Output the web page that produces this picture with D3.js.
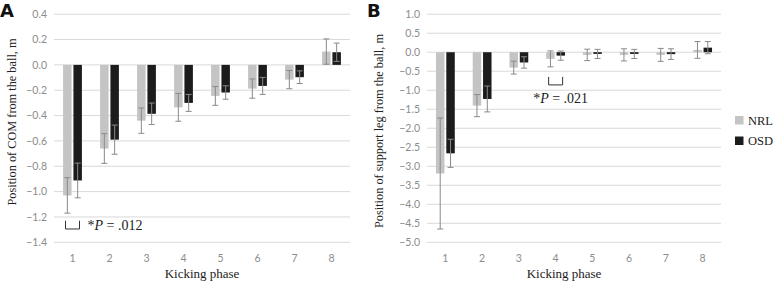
<!DOCTYPE html>
<html>
<head>
<meta charset="utf-8">
<script src="https://cdn.jsdelivr.net/npm/d3@7"></script>
<style>
  body { margin: 0; background: #fff; }
  svg { display: block; }
</style>
</head>
<body>
<svg id="chart"></svg>
<script>
/////////////////////////////////
// DATA
//////////////////////////////////

var phases = ["1", "2", "3", "4", "5", "6", "7", "8"];
var groups = ["NRL", "OSD"];

// Panel A - position of COM from the ball (m), mean and SD
var comNRL = [-1.03, -0.66, -0.44, -0.335, -0.245, -0.187, -0.116, 0.105];
var comNRLsd = [0.14, 0.117, 0.10, 0.11, 0.074, 0.076, 0.072, 0.10];
var comOSD = [-0.912, -0.59, -0.386, -0.30, -0.218, -0.166, -0.097, 0.10];
var comOSDsd = [0.137, 0.115, 0.085, 0.067, 0.053, 0.067, 0.05, 0.072];
var comTicks = [0.4, 0.2, 0.0, -0.2, -0.4, -0.6, -0.8, -1.0, -1.2, -1.4];

// Panel B - position of support leg from the ball (m)
var legNRL = [-3.19, -1.405, -0.405, -0.175, -0.07, -0.07, -0.07, 0.06];
var legNRLsd = [1.46, 0.29, 0.17, 0.21, 0.15, 0.16, 0.17, 0.22];
var legOSD = [-2.66, -1.23, -0.27, -0.09, -0.045, -0.045, -0.05, 0.12];
var legOSDsd = [0.37, 0.34, 0.15, 0.12, 0.12, 0.12, 0.14, 0.16];
var legTicks = [1.0, 0.5, 0.0, -0.5, -1.0, -1.5, -2.0, -2.5, -3.0, -3.5, -4.0, -4.5, -5.0];

var colors = { NRL: "#c4c4c4", OSD: "#1c1c1c" };

/////////////////////////////////
// SVG
//////////////////////////////////

var width = 774, height = 282;
var svg = d3.select("#chart").attr("width", width).attr("height", height);

var serif = "'Liberation Serif', 'DejaVu Serif', serif";
var sans = "Lato, 'Open Sans', sans-serif";

/////////////////////////////////
// DRAW ONE PANEL
//////////////////////////////////

function drawPanel(opt) {
    var x = d3.scaleBand().domain(phases).range(opt.xRange);
    var y = d3.scaleLinear().domain(opt.yDomain).range([242.3, 14.2]);
    var xSub = d3.scaleBand().domain(groups).range([-9.4, 9.4]).paddingInner(0.18);

    var g = svg.append("g");

    // gridlines
    g.selectAll(".grid").data(opt.ticks).enter().append("line")
        .attr("x1", opt.xRange[0]).attr("x2", opt.xRange[1])
        .attr("y1", function(d) { return y(d); })
        .attr("y2", function(d) { return y(d); })
        .attr("stroke", "#d9d9d9").attr("stroke-width", 1);

    // y tick labels
    g.selectAll(".ytick").data(opt.ticks).enter().append("text")
        .attr("x", opt.xRange[0] - 7)
        .attr("y", function(d) { return y(d); })
        .attr("dy", "0.35em")
        .attr("text-anchor", "end")
        .attr("font-family", sans).attr("font-size", 10.5)
        .attr("fill", "#8c8c8c")
        .text(function(d) { return d3.format(".1f")(d); });

    // x tick labels
    g.selectAll(".xtick").data(phases).enter().append("text")
        .attr("x", function(d) { return x(d) + x.bandwidth() / 2; })
        .attr("y", 262)
        .attr("text-anchor", "middle")
        .attr("font-family", sans).attr("font-size", 10.5)
        .attr("fill", "#8c8c8c")
        .text(function(d) { return d; });

    // rows: one per bar
    var rows = [];
    phases.forEach(function(p, i) {
        rows.push({ phase: p, group: "NRL", v: opt.nrl[i], sd: opt.nrlSd[i] });
        rows.push({ phase: p, group: "OSD", v: opt.osd[i], sd: opt.osdSd[i] });
    });

    function cx(d) { return x(d.phase) + x.bandwidth() / 2 + xSub(d.group); }

    g.selectAll(".bar").data(rows).enter().append("rect")
        .attr("x", cx)
        .attr("width", xSub.bandwidth())
        .attr("y", function(d) { return y(Math.max(0, d.v)); })
        .attr("height", function(d) { return Math.abs(y(d.v) - y(0)); })
        .attr("fill", function(d) { return colors[d.group]; });

    // error bars
    var eb = g.selectAll(".err").data(rows).enter().append("g")
        .attr("stroke", "#8a8a8a").attr("stroke-width", 1);
    eb.append("line")
        .attr("x1", function(d) { return cx(d) + xSub.bandwidth() / 2; })
        .attr("x2", function(d) { return cx(d) + xSub.bandwidth() / 2; })
        .attr("y1", function(d) { return y(d.v + d.sd); })
        .attr("y2", function(d) { return y(d.v - d.sd); });
    [1, -1].forEach(function(s) {
        eb.append("line")
            .attr("x1", function(d) { return cx(d) + xSub.bandwidth() / 2 - 3; })
            .attr("x2", function(d) { return cx(d) + xSub.bandwidth() / 2 + 3; })
            .attr("y1", function(d) { return y(d.v + s * d.sd); })
            .attr("y2", function(d) { return y(d.v + s * d.sd); });
    });

    // axis titles
    var mid = (opt.xRange[0] + opt.xRange[1]) / 2;
    g.append("text")
        .attr("x", opt.xTitleX).attr("y", 278)
        .attr("text-anchor", "middle")
        .attr("font-family", serif).attr("font-size", 13)
        .attr("fill", "#222")
        .text("Kicking phase");

    g.append("text")
        .attr("transform", "translate(" + opt.yTitleX + "," + opt.yTitleY + ") rotate(-90)")
        .attr("text-anchor", "middle")
        .attr("font-family", serif).attr("font-size", 12.3)
        .attr("fill", "#222")
        .text(opt.yTitle);

    // panel letter
    g.append("text")
        .attr("x", opt.letterX).attr("y", 17)
        .attr("font-family", "'DejaVu Sans', sans-serif").attr("font-weight", "bold")
        .attr("font-size", 18).attr("fill", "#111")
        .text(opt.letter);

    // significance bracket
    var c = x(opt.sig.phase) + x.bandwidth() / 2;
    g.append("path")
        .attr("d", "M" + (c - 7) + "," + y(opt.sig.top) + "V" + y(opt.sig.bottom) +
            "H" + (c + 7) + "V" + y(opt.sig.top))
        .attr("fill", "none").attr("stroke", "#333").attr("stroke-width", 1);

    var t = g.append("text")
        .attr("x", c + opt.sig.dx).attr("y", y(opt.sig.textY))
        .attr("text-anchor", opt.sig.anchor)
        .attr("font-family", serif).attr("font-size", 14)
        .attr("fill", "#222");
    t.append("tspan").text("*");
    t.append("tspan").attr("font-style", "italic").text("P");
    t.append("tspan").text(" = " + opt.sig.label);

    return { x: x, y: y };
}

drawPanel({
    letter: "A", letterX: 0,
    xRange: [54, 350], yDomain: [-1.4, 0.4], ticks: comTicks,
    nrl: comNRL, nrlSd: comNRLsd, osd: comOSD, osdSd: comOSDsd,
    yTitle: "Position of COM from the ball, m", yTitleX: 16, yTitleY: 122,
    xTitleX: 202,
    sig: { phase: "1", top: -1.23, bottom: -1.295, textY: -1.3, dx: 15, anchor: "start", label: ".012" }
});

drawPanel({
    letter: "B", letterX: 367,
    xRange: [427, 721], yDomain: [-5, 1], ticks: legTicks,
    nrl: legNRL, nrlSd: legNRLsd, osd: legOSD, osdSd: legOSDsd,
    yTitle: "Position of support leg from the ball, m", yTitleX: 383, yTitleY: 131,
    xTitleX: 564,
    sig: { phase: "4", top: -0.65, bottom: -0.86, textY: -1.34, dx: 5, anchor: "middle", label: ".021" }
});

/////////////////////////////////
// LEGEND
//////////////////////////////////

var legend = svg.append("g");
groups.forEach(function(gname, i) {
    legend.append("rect")
        .attr("x", 735).attr("y", 116 + i * 20.5)
        .attr("width", 8.5).attr("height", 8.5)
        .attr("fill", colors[gname]);
    legend.append("text")
        .attr("x", 748).attr("y", 124.5 + i * 20.5)
        .attr("font-family", serif).attr("font-size", 12.5)
        .attr("fill", "#222")
        .text(gname);
});
</script>
</body>
</html>
